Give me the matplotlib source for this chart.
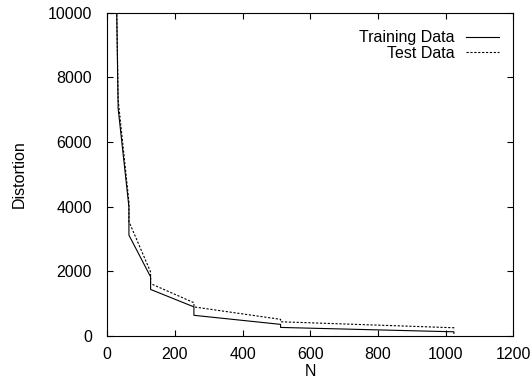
import matplotlib
matplotlib.use("Agg")
import matplotlib.pyplot as plt

plt.rcParams['font.family'] = ['Liberation Sans', 'DejaVu Sans']

# Training data (repeated N = vertical drop at that N)
train_n = [16, 32, 32, 64, 64, 128, 128, 256, 256, 512, 512, 1024, 1024]
train_d = [18500, 7150, 7050, 3990, 3120, 1830, 1440, 900, 640, 360, 265, 130, 80]

# Test data
test_n = [16, 32, 32, 64, 64, 128, 128, 256, 256, 512, 512, 1024, 1024]
test_d = [18000, 7400, 7320, 4150, 3540, 1980, 1620, 1030, 900, 515, 440, 255, 185]

x_ticks = [0, 200, 400, 600, 800, 1000, 1200]
y_ticks = [0, 2000, 4000, 6000, 8000, 10000]

fig = plt.figure(figsize=(5.31, 3.82), dpi=100)
ax = fig.add_axes([0.202, 0.1204, 0.765, 0.8466])

ax.plot(train_n, train_d, color='black', lw=0.8, label='Training Data')
ax.plot(test_n, test_d, color='black', lw=0.8, dashes=(2, 1.5), label='Test Data')

ax.set_xlim(0, 1200)
ax.set_ylim(0, 10000)
ax.set_xticks(x_ticks)
ax.set_yticks(y_ticks)
ax.tick_params(direction='in', length=4, width=0.8, top=True, right=True,
               labelsize=11.5)
ax.tick_params(axis='y', pad=11)
ax.tick_params(axis='x', pad=8)
for s in ax.spines.values():
    s.set_linewidth(0.8)

ax.set_xlabel('N', fontsize=11.5, labelpad=1)
ax.set_ylabel('Distortion', fontsize=11.5, labelpad=15)

ax.legend(loc='upper right', bbox_to_anchor=(1.0, 0.99), markerfirst=False,
          frameon=False, fontsize=11.5,
          handlelength=2.1, handletextpad=0.7, labelspacing=0.05,
          borderaxespad=0.6, borderpad=0.3)

fig.savefig('out.png', dpi=100)
